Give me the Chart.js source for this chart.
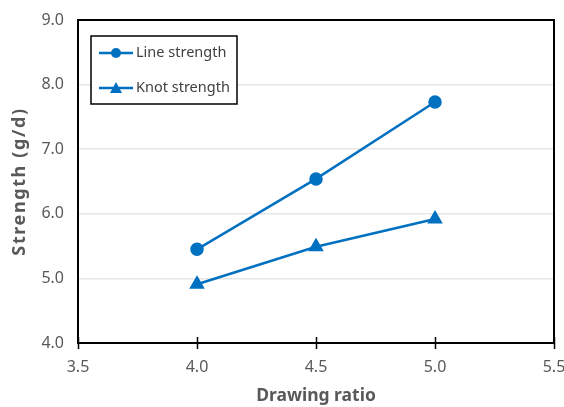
<!DOCTYPE html>
<html><head><meta charset="utf-8">
<script src="https://cdn.jsdelivr.net/npm/chart.js@4"></script>
<style>html,body{margin:0;padding:0;background:#fff}#w{width:564px;height:407px}</style>
</head><body><div id="w"><canvas id="c"></canvas></div>
<script>
const drawingRatio = [4.0, 4.5, 5.0];
const lineStrength = [5.45, 6.54, 7.73];
const knotStrength = [4.91, 5.49, 5.92];
const xTicks = [3.5, 4.0, 4.5, 5.0, 5.5];
const yTicks = [4.0, 5.0, 6.0, 7.0, 8.0, 9.0];
const seriesLabels = ['Line strength', 'Knot strength'];
const yTitle = 'Strength (g/d)';
const BLUE = '#0070C0';
const FONT = '"Noto Sans", sans-serif';

const frame = {
  id: 'frame',
  afterDatasetsDraw(chart) {
    const {ctx, chartArea: a, scales} = chart;
    ctx.save();
    ctx.strokeStyle = '#000'; ctx.lineWidth = 2;
    ctx.strokeRect(a.left, a.top, a.right - a.left, a.bottom - a.top);
    ctx.lineWidth = 1.5;
    xTicks.forEach(v => {
      const x = Math.round(scales.x.getPixelForValue(v)) + 0.5;
      ctx.beginPath(); ctx.moveTo(x, a.bottom - 6); ctx.lineTo(x, a.bottom + 6); ctx.stroke();
    });
    // y title
    ctx.save();
    ctx.translate(20, (a.top + a.bottom) / 2 + 1);
    ctx.rotate(-Math.PI / 2);
    ctx.font = 'bold 18px ' + FONT;
    ctx.letterSpacing = '1.6px';
    ctx.fillStyle = '#595959'; ctx.textAlign = 'center'; ctx.textBaseline = 'middle';
    ctx.fillText(yTitle, 1, 0);
    ctx.restore();
    // legend
    const lx = 91, ly = 36, lw = 146, lh = 68;
    ctx.fillStyle = '#fff'; ctx.fillRect(lx, ly, lw, lh);
    ctx.lineWidth = 1.5; ctx.strokeStyle = '#000';
    ctx.strokeRect(lx, ly, lw, lh);
    chart.data.datasets.forEach((ds, i) => {
      const y = ly + 17 + i * 35;
      ctx.strokeStyle = BLUE; ctx.lineWidth = 2.5;
      ctx.beginPath(); ctx.moveTo(lx + 8, y); ctx.lineTo(lx + 42, y); ctx.stroke();
      ctx.fillStyle = BLUE;
      if (i === 0) { ctx.beginPath(); ctx.arc(lx + 25, y, 5, 0, Math.PI * 2); ctx.fill(); }
      else { ctx.beginPath(); ctx.moveTo(lx + 25, y - 6); ctx.lineTo(lx + 31, y + 5); ctx.lineTo(lx + 19, y + 5); ctx.closePath(); ctx.fill(); }
      ctx.fillStyle = '#404040'; ctx.font = '14.5px ' + FONT; ctx.textBaseline = 'middle';
      ctx.fillText(ds.label, lx + 45, y);
    });
    ctx.restore();
  }
};

new Chart(document.getElementById('c'), {
  type: 'line',
  data: {
    datasets: [
      { label: seriesLabels[0], data: drawingRatio.map((x, i) => ({x, y: lineStrength[i]})),
        borderColor: BLUE, backgroundColor: BLUE, borderWidth: 2.5, pointStyle: 'circle', pointRadius: 5.5, pointHoverRadius: 5.5 },
      { label: seriesLabels[1], data: drawingRatio.map((x, i) => ({x, y: knotStrength[i]})),
        borderColor: BLUE, backgroundColor: BLUE, borderWidth: 2.5, pointStyle: 'triangle', pointRadius: 6.5, pointHoverRadius: 6.5 }
    ]
  },
  options: {
    responsive: true, maintainAspectRatio: false, animation: false,
    layout: { padding: { top: 20, right: 10, left: 0, bottom: 0 } },
    plugins: { legend: { display: false }, tooltip: { enabled: false } },
    scales: {
      x: {
        type: 'linear', min: 3.5, max: 5.5,
        afterBuildTicks: s => { s.ticks = xTicks.map(v => ({value: v})); },
        afterFit: s => { s.height = 64; s.paddingRight = 0; s.paddingLeft = 0; },
        grid: { display: false, drawTicks: false },
        border: { display: false },
        ticks: { color: '#595959', font: { family: FONT, size: 16 }, padding: 15, callback: v => v.toFixed(1) },
        title: { display: true, text: 'Drawing ratio', color: '#595959', font: { family: FONT, size: 17.5, weight: 'bold' }, padding: { top: 2, bottom: 0 } }
      },
      y: {
        type: 'linear', min: 4, max: 9,
        afterBuildTicks: s => { s.ticks = yTicks.map(v => ({value: v})); },
        afterFit: s => { s.width = 78; s.paddingTop = 0; s.paddingBottom = 0; },
        grid: { color: '#e6e6e6', lineWidth: 1.5, drawTicks: false },
        border: { display: false },
        ticks: { color: '#595959', font: { family: FONT, size: 16 }, padding: 14, callback: v => v.toFixed(1) },
        title: { display: false }
      }
    }
  },
  plugins: [frame]
});
</script></body></html>
